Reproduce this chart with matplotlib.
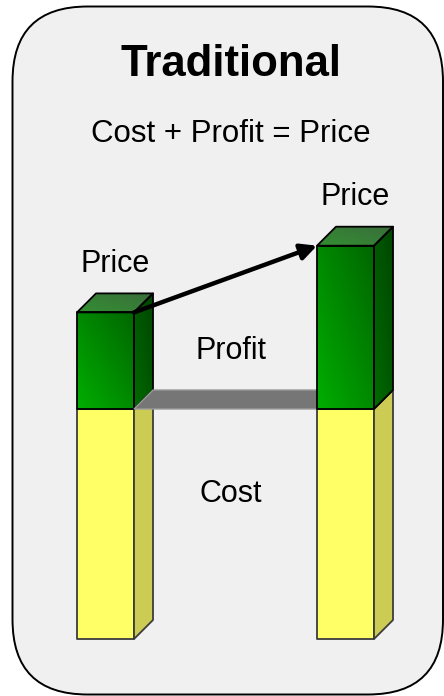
import numpy as np
import matplotlib
matplotlib.use('Agg')
import matplotlib.pyplot as plt
from matplotlib.patches import Polygon, FancyBboxPatch

plt.rcParams['font.family'] = ['Liberation Sans', 'DejaVu Sans']

# Данные (условные единицы)
title = 'Traditional'
formula = 'Cost + Profit = Price'
cost = [10.0, 10.0]      # себестоимость
profit = [4.2, 7.1]      # прибыль
top_labels = ['Price', 'Price']
mid_label = 'Profit'
low_label = 'Cost'

# Геометрия (пиксели)
unit = 23.0
base_y = 639
bar_x = [77, 317]
bar_w = 57
depth = 19

GREEN_FRONT = ((0.0, 0.68, 0.0), (0.0, 0.40, 0.0))
GREEN_SIDE = ((0.0, 0.42, 0.0), (0.0, 0.27, 0.0))
GREEN_TOP = ((0.20, 0.56, 0.20), (0.23, 0.43, 0.23))


def grad_face(ax, verts, c0, c1, z, edge='black'):
    """Грань с градиентом: c0 внизу слева, c1 вверху справа"""
    poly = Polygon(verts, closed=True, facecolor='none', edgecolor=edge,
                   lw=1.3, zorder=z + 0.5, joinstyle='round')
    ax.add_patch(poly)
    xs = [v[0] for v in verts]
    ys = [v[1] for v in verts]
    n = 64
    xf = np.linspace(0, 1, n)[None, :]
    yf = np.linspace(0, 1, n)[:, None]
    t = ((1 - xf) + yf) / 2
    c0 = np.array(c0)
    c1 = np.array(c1)
    img = c1[None, None, :] + (c0 - c1)[None, None, :] * t[:, :, None]
    im = ax.imshow(img, origin='lower', extent=(min(xs), max(xs), min(ys), max(ys)),
                   interpolation='bilinear', zorder=z, aspect='auto')
    im.set_clip_path(poly)


def flat_face(ax, verts, color, z, edge):
    ax.add_patch(Polygon(verts, closed=True, facecolor=color, edgecolor=edge,
                         lw=1.3, zorder=z, joinstyle='round'))


def draw_bar(ax, x, c, p, z):
    y_mid = base_y - c * unit
    y_top = y_mid - p * unit
    x2 = x + bar_w
    # жёлтая часть
    flat_face(ax, [(x, base_y), (x2, base_y), (x2, y_mid), (x, y_mid)], '#ffff66', z, '#3c3c3c')
    flat_face(ax, [(x2, base_y), (x2 + depth, base_y - depth), (x2 + depth, y_mid - depth),
                   (x2, y_mid)], '#cccc55', z, '#3c3c3c')
    # зелёная часть
    grad_face(ax, [(x, y_mid), (x2, y_mid), (x2, y_top), (x, y_top)], *GREEN_FRONT, z + 1)
    grad_face(ax, [(x2, y_mid), (x2 + depth, y_mid - depth), (x2 + depth, y_top - depth),
                   (x2, y_top)], *GREEN_SIDE, z + 1)
    grad_face(ax, [(x, y_top), (x2, y_top), (x2 + depth, y_top - depth),
                   (x + depth, y_top - depth)], *GREEN_TOP, z + 1)
    return y_mid, y_top


fig = plt.figure(figsize=(4.44, 6.96), dpi=100)
ax = fig.add_axes([0, 0, 1, 1])
ax.axis('off')

# Фон-рамка
ax.add_patch(FancyBboxPatch((12.5, 6.5), 430.5, 688,
                            boxstyle='round,pad=0,rounding_size=75',
                            facecolor='#f0f0f0', edgecolor='black', lw=1.4, zorder=0))

# Левый столбец
y_mid0, y_top0 = draw_bar(ax, bar_x[0], cost[0], profit[0], 2)

# Плоскость прибыли
x_a = bar_x[0] + bar_w
x_b = bar_x[1]
y_m = base_y - cost[0] * unit
ax.add_patch(Polygon([(x_a, y_m), (x_a + depth, y_m - depth), (x_b + depth, y_m - depth), (x_b, y_m)],
                     closed=True, facecolor='#767676', edgecolor='#9a9a9a', lw=1.0, zorder=5))

# Правый столбец
y_mid1, y_top1 = draw_bar(ax, bar_x[1], cost[1], profit[1], 6)

# Стрелка
ax.annotate('', xy=(bar_x[1], y_top1), xytext=(bar_x[0] + bar_w, y_top0),
            arrowprops=dict(arrowstyle='-|>', color='black', lw=3.2, mutation_scale=24,
                            shrinkA=0, shrinkB=0), zorder=10)

# Подписи
ax.text(231, 76, title, ha='center', va='baseline', fontsize=31.5, fontweight='bold', zorder=11)
ax.text(231, 142, formula, ha='center', va='baseline', fontsize=22.5, zorder=11)
ax.text(bar_x[0] + 38, y_top0 - 40, top_labels[0], ha='center', va='baseline', fontsize=22, zorder=11)
ax.text(bar_x[1] + 38, y_top1 - 41, top_labels[1], ha='center', va='baseline', fontsize=22, zorder=11)
ax.text(231, 359, mid_label, ha='center', va='baseline', fontsize=22, zorder=11)
ax.text(231, 502, low_label, ha='center', va='baseline', fontsize=22, zorder=11)

ax.set_xlim(0, 444)
ax.set_ylim(696, 0)

fig.savefig('out.png', dpi=100, facecolor='white')
